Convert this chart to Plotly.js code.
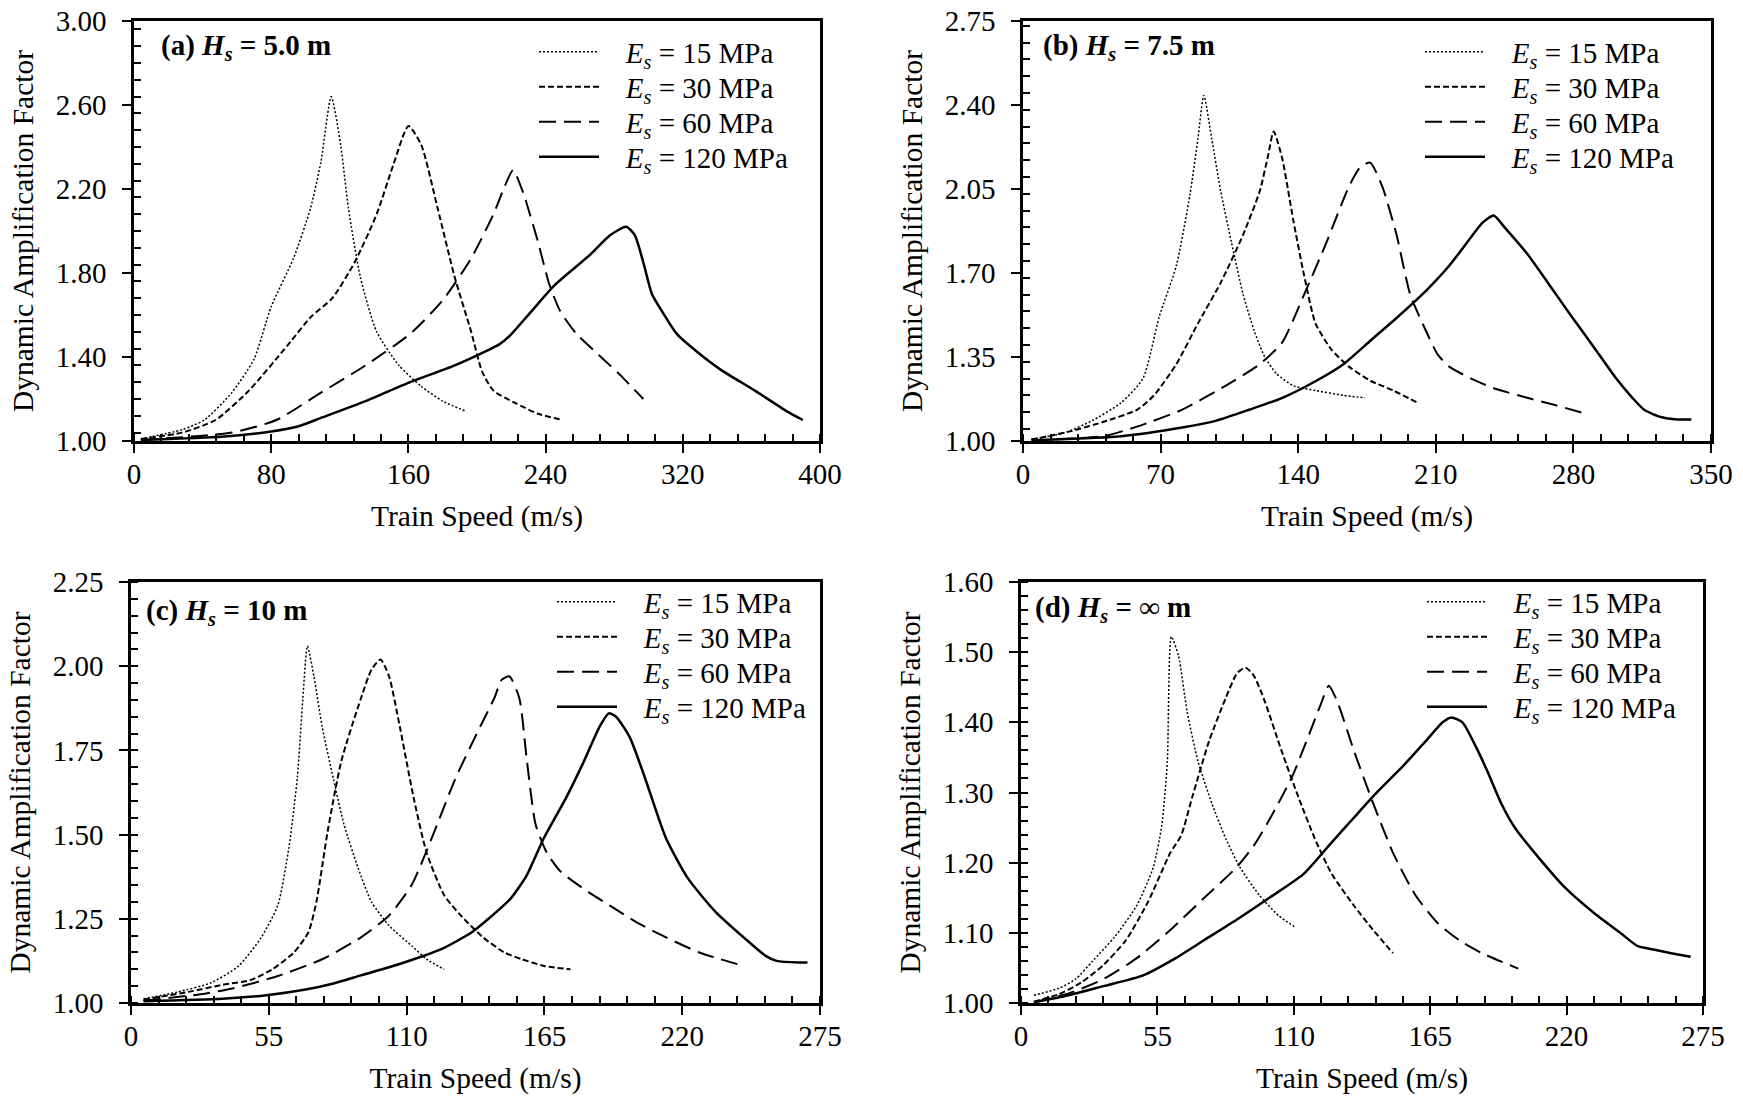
<!DOCTYPE html>
<html>
<head>
<meta charset="utf-8">
<script src="https://cdn.plot.ly/plotly-3.0.1.min.js"></script>
<style>html,body{margin:0;padding:0;background:#fff;}#chart{width:1743px;height:1102px;}</style>
</head>
<body>
<div id="chart"></div>
<script>
// ---------- data (Train Speed in m/s, Dynamic Amplification Factor) ----------
// Panel (a) Hs = 5.0 m
var a15x = [4, 28, 41, 57, 70, 80, 93, 103, 109, 115, 120.5, 125, 132, 141.5, 154.5, 167.5, 180, 194];
var a15y = [1.01, 1.054, 1.10, 1.23, 1.39, 1.64, 1.87, 2.11, 2.33, 2.64, 2.41, 2.11, 1.78, 1.52, 1.36, 1.26, 1.19, 1.14];
var a30x = [4, 28, 47.6, 67, 90, 103, 115.6, 128.6, 141.5, 151, 160, 167.5, 177, 187, 196.6, 203, 209.6, 222.5, 235.5, 250];
var a30y = [1.01, 1.04, 1.10, 1.24, 1.46, 1.59, 1.68, 1.85, 2.08, 2.31, 2.50, 2.41, 2.11, 1.78, 1.52, 1.33, 1.24, 1.18, 1.13, 1.10];
var a60x = [4, 57, 83, 109, 135, 161, 180, 196.6, 209.6, 216, 221, 227, 235.5, 242, 248.4, 258, 271, 284, 297];
var a60y = [1.005, 1.04, 1.10, 1.23, 1.36, 1.51, 1.67, 1.87, 2.08, 2.21, 2.29, 2.18, 1.95, 1.75, 1.62, 1.51, 1.41, 1.31, 1.20];
var a120x = [4, 51, 80, 96, 109, 135, 161, 187, 213, 219, 232, 245, 265, 277.6, 287, 292, 297, 302, 310, 316.5, 329, 342, 362, 381, 390];
var a120y = [1.005, 1.02, 1.045, 1.07, 1.11, 1.19, 1.28, 1.36, 1.46, 1.50, 1.62, 1.74, 1.88, 1.98, 2.02, 1.98, 1.85, 1.70, 1.59, 1.51, 1.42, 1.34, 1.24, 1.14, 1.10];

// Panel (b) Hs = 7.5 m
var b15x = [4.3, 21, 35, 50, 61, 69.4, 78, 85, 89, 92, 96, 100.6, 106, 112, 117.6, 123, 129, 137.5, 149, 163, 174];
var b15y = [1.006, 1.034, 1.084, 1.16, 1.26, 1.52, 1.73, 2.03, 2.26, 2.44, 2.26, 2.04, 1.83, 1.61, 1.46, 1.35, 1.28, 1.23, 1.21, 1.19, 1.18];
var b30x = [4.3, 24, 41, 58, 66.6, 78, 89, 100.6, 112, 120.4, 124.7, 127.5, 131.8, 137.5, 143, 148.8, 157, 165.8, 177, 188.5, 200.6];
var b30y = [1.006, 1.04, 1.08, 1.13, 1.19, 1.32, 1.49, 1.66, 1.86, 2.04, 2.19, 2.29, 2.18, 1.92, 1.69, 1.49, 1.38, 1.31, 1.25, 1.21, 1.16];
var b60x = [4.3, 41, 58, 80.8, 103, 120.4, 131.8, 143, 154.5, 165.8, 171.5, 176.6, 182.8, 190, 197, 205.5, 211, 216.8, 228, 239.5, 256.5, 270.6, 287.6];
var b60y = [1.003, 1.02, 1.06, 1.13, 1.23, 1.32, 1.41, 1.61, 1.83, 2.06, 2.14, 2.16, 2.06, 1.86, 1.61, 1.45, 1.36, 1.31, 1.26, 1.22, 1.18, 1.15, 1.11];
var b120x = [4.3, 50, 81, 98, 115, 132, 149, 163, 177, 191, 205.5, 216.8, 228, 233.8, 239.5, 245, 256.5, 267.8, 279, 290.5, 301.8, 310, 316, 324.5, 333, 340];
var b120y = [1.003, 1.02, 1.056, 1.084, 1.13, 1.18, 1.25, 1.32, 1.42, 1.52, 1.63, 1.73, 1.85, 1.91, 1.94, 1.89, 1.78, 1.65, 1.52, 1.39, 1.26, 1.18, 1.13, 1.10, 1.09, 1.09];

// Panel (c) Hs = 10 m
var c15x = [5, 18.8, 32, 43, 52, 58.6, 63, 66.4, 68.6, 70.4, 73, 76.3, 80.8, 85, 90.7, 96, 103, 112, 118, 125];
var c15y = [1.0125, 1.033, 1.06, 1.11, 1.195, 1.29, 1.46, 1.67, 1.905, 2.06, 1.97, 1.82, 1.665, 1.53, 1.40, 1.30, 1.23, 1.17, 1.13, 1.10];
var c30x = [5, 23, 36.5, 47.6, 56.4, 65, 70.8, 74, 78.5, 84, 91.8, 96, 99.6, 103, 107.3, 112.8, 118, 125, 131.6, 140.5, 149, 156, 164.8, 175.4];
var c30y = [1.01, 1.033, 1.054, 1.068, 1.10, 1.15, 1.21, 1.30, 1.51, 1.72, 1.905, 1.99, 2.02, 1.97, 1.82, 1.61, 1.446, 1.32, 1.26, 1.195, 1.15, 1.13, 1.11, 1.10];
var c60x = [5, 27.7, 41, 58.6, 76.3, 91.8, 103, 112, 120.6, 129.4, 138, 145, 148, 151, 155, 158, 161.5, 166, 171.5, 182.5, 191, 202.4, 213.5, 226.8, 244.5];
var c60y = [1.007, 1.026, 1.044, 1.08, 1.13, 1.195, 1.26, 1.35, 1.50, 1.665, 1.80, 1.905, 1.96, 1.97, 1.905, 1.72, 1.53, 1.446, 1.39, 1.33, 1.29, 1.237, 1.195, 1.15, 1.11];
var c120x = [5, 36.5, 54, 69.7, 80.8, 91.8, 103, 114, 125, 136, 142.7, 151.5, 158, 164.8, 173.7, 180.3, 187, 190.7, 193.6, 199, 204.6, 213.5, 222.3, 233.4, 244.5, 253.3, 257.7, 266.6, 270];
var c120y = [1.005, 1.0125, 1.023, 1.04, 1.058, 1.082, 1.106, 1.133, 1.164, 1.21, 1.25, 1.31, 1.38, 1.49, 1.61, 1.71, 1.82, 1.86, 1.85, 1.79, 1.68, 1.49, 1.37, 1.27, 1.195, 1.14, 1.125, 1.12, 1.12];

// Panel (d) Hs = infinity
var d15x = [5.2, 15.3, 22, 28.7, 37.7, 46.7, 53.4, 56.8, 59, 60.6, 63.5, 67, 71.4, 77, 82.6, 88.2, 96, 104, 110.2];
var d15y = [1.011, 1.021, 1.034, 1.059, 1.094, 1.139, 1.194, 1.254, 1.344, 1.522, 1.495, 1.415, 1.344, 1.284, 1.234, 1.194, 1.154, 1.124, 1.109];
var d30x = [5.2, 15.3, 24.2, 33.2, 42.2, 51.2, 60.2, 64.6, 69.1, 75.9, 82.6, 87.1, 90.5, 93.8, 98.3, 105, 111.8, 118.5, 125.3, 134.2, 142, 150];
var d30y = [1.002, 1.0125, 1.029, 1.054, 1.089, 1.144, 1.214, 1.239, 1.294, 1.374, 1.435, 1.47, 1.478, 1.467, 1.43, 1.36, 1.294, 1.234, 1.184, 1.139, 1.104, 1.071];
var d60x = [5.2, 19.8, 33.2, 46.7, 60.2, 73.6, 87.1, 93.8, 100.6, 109.5, 116.3, 120.8, 124.1, 127.5, 134.2, 141, 150, 159, 168, 176.9, 185.9, 200.5];
var d60y = [1.001, 1.0145, 1.034, 1.064, 1.104, 1.149, 1.194, 1.224, 1.264, 1.324, 1.384, 1.425, 1.452, 1.43, 1.36, 1.294, 1.214, 1.154, 1.114, 1.089, 1.071, 1.049];
var d120x = [5.2, 17.5, 33.2, 49, 62.4, 73.6, 87.1, 100.6, 114, 125.3, 134.2, 143.2, 154.4, 163.4, 170, 173.5, 178, 183.6, 188.1, 193.7, 199.3, 208.3, 219.5, 230.8, 242, 248.7, 255.5, 262.2, 270];
var d120y = [1.001, 1.0095, 1.024, 1.039, 1.064, 1.089, 1.119, 1.151, 1.184, 1.229, 1.264, 1.299, 1.339, 1.374, 1.40, 1.407, 1.40, 1.364, 1.33, 1.284, 1.249, 1.209, 1.164, 1.129, 1.099, 1.081, 1.076, 1.071, 1.066];

var seriesNames = ['<i>E<sub>s</sub></i> = 15 MPa', '<i>E<sub>s</sub></i> = 30 MPa', '<i>E<sub>s</sub></i> = 60 MPa', '<i>E<sub>s</sub></i> = 120 MPa'];
var panelLabels = ['<b>(a) <i>H<sub>s</sub></i> = 5.0 m</b>', '<b>(b) <i>H<sub>s</sub></i> = 7.5 m</b>', '<b>(c) <i>H<sub>s</sub></i> = 10 m</b>', '<b>(d) <i>H<sub>s</sub></i> = ∞ m</b>'];
var xRanges = [[0, 400], [0, 350], [0, 275], [0, 275]];
var xMajor = [80, 70, 55, 55];
var yRanges = [[1, 3], [1, 2.75], [1, 2.25], [1, 1.6]];
var yMajor = [0.4, 0.35, 0.25, 0.1];
var xTitle = 'Train Speed (m/s)';
var yTitle = 'Dynamic Amplification Factor';

// ---------- styling ----------
var FONT = '"Liberation Serif", "Times New Roman", serif';
var GAP = '\u00a0\u00a0\u00a0';
var styles = [
  {dash: '2px,2px', width: 1.5},
  {dash: '6px,3px', width: 2},
  {dash: '17px,8px', width: 2},
  {dash: 'solid', width: 2.5}
];
var panels = [
  {xs: [a15x, a30x, a60x, a120x], ys: [a15y, a30y, a60y, a120y]},
  {xs: [b15x, b30x, b60x, b120x], ys: [b15y, b30y, b60y, b120y]},
  {xs: [c15x, c30x, c60x, c120x], ys: [c15y, c30y, c60y, c120y]},
  {xs: [d15x, d30x, d60x, d120x], ys: [d15y, d30y, d60y, d120y]}
];
var W = 1743, H = 1102;
var xDom = [[134 / W, 820 / W], [1023 / W, 1711 / W], [131 / W, 820 / W], [1021 / W, 1703 / W]];
var yDom = [[1 - 441 / H, 1 - 21 / H], [1 - 441 / H, 1 - 21 / H], [1 - 1003 / H, 1 - 582 / H], [1 - 1003 / H, 1 - 582 / H]];
// legend: x of the sample line start, y of first row (px), row pitch 35 px
var legendLineX = [538, 1424, 556, 1426];
var legendRow0 = [52, 52, 602, 602];
var ROW = 35;
var labelPos = [[159, 47], [1041, 47], [144, 612], [1033, 609]];

var traces = [];
var layout = {
  width: W, height: H,
  margin: {l: 0, r: 0, t: 0, b: 0},
  paper_bgcolor: '#ffffff', plot_bgcolor: '#ffffff',
  font: {family: FONT, color: '#000', size: 28},
  showlegend: true,
  annotations: []
};

var legCount = 0;
panels.forEach(function (p, i) {
  var sfx = i === 0 ? '' : String(i + 1);
  for (var k = 0; k < 4; k++) {
    legCount++;
    var legName = legCount === 1 ? 'legend' : 'legend' + legCount;
    traces.push({
      type: 'scatter', mode: 'lines',
      x: p.xs[k], y: p.ys[k],
      xaxis: 'x' + sfx, yaxis: 'y' + sfx,
      name: GAP + seriesNames[k],
      legend: legName,
      showlegend: true,
      line: {color: '#000', width: styles[k].width, dash: styles[k].dash, shape: 'spline', smoothing: 0.6},
      hoverinfo: 'x+y'
    });
    layout[legName] = {
      x: (legendLineX[i] - 4) / W, y: 1 - (legendRow0[i] + k * ROW) / H,
      xanchor: 'left', yanchor: 'middle',
      bgcolor: 'rgba(0,0,0,0)', borderwidth: 0,
      font: {family: FONT, size: 29, color: '#000'},
      itemwidth: 60
    };
  }
  var axCommon = {
    showline: true, linecolor: '#000', linewidth: 2.5, mirror: true,
    showgrid: false, zeroline: false,
    ticks: 'outside', ticklen: 9, tickwidth: 2, tickcolor: '#000',
    tickfont: {family: FONT, size: 29, color: '#000'},
    minor: {ticks: 'inside', ticklen: 7, tickwidth: 1.5, tickcolor: '#000', showgrid: false}
  };
  layout['xaxis' + sfx] = Object.assign({}, axCommon, {
    domain: xDom[i], anchor: 'y' + sfx, range: xRanges[i], dtick: xMajor[i], tick0: 0,
    minor: Object.assign({}, axCommon.minor, {dtick: xMajor[i] / 5}),
    ticklabelstandoff: -4,
    title: {text: xTitle, font: {family: FONT, size: 29.5, color: '#000'}, standoff: 17}
  });
  layout['yaxis' + sfx] = Object.assign({}, axCommon, {
    domain: yDom[i], anchor: 'x' + sfx, range: yRanges[i], dtick: yMajor[i], tick0: 1,
    tickformat: '.2f',
    minor: Object.assign({}, axCommon.minor, {dtick: yMajor[i] / 5}),
    ticklabelstandoff: 10,
    title: {text: yTitle, font: {family: FONT, size: 29.5, color: '#000'}, standoff: 14}
  });
  layout.annotations.push({
    xref: 'paper', yref: 'paper', x: labelPos[i][0] / W, y: 1 - labelPos[i][1] / H,
    xanchor: 'left', yanchor: 'middle', showarrow: false,
    text: panelLabels[i], font: {family: FONT, size: 29, color: '#000'}
  });
});

Plotly.newPlot('chart', traces, layout, {displayModeBar: false, responsive: false});
</script>
</body>
</html>
